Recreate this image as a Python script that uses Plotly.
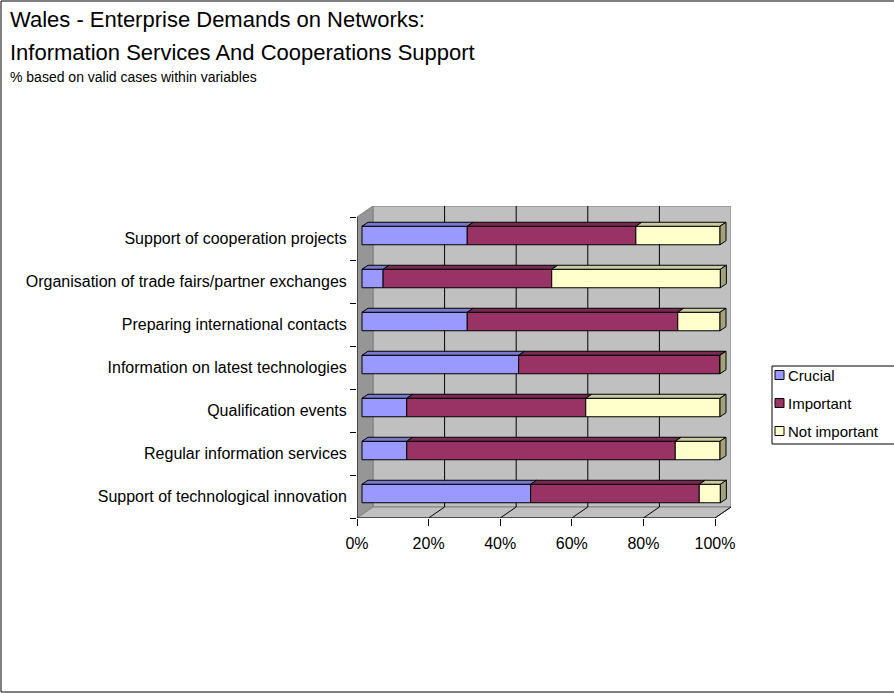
import plotly.graph_objects as go

# ---- data -------------------------------------------------------------
categories = [
    "Support of technological innovation",
    "Regular information services",
    "Qualification events",
    "Information on latest technologies",
    "Preparing international contacts",
    "Organisation of trade fairs/partner exchanges",
    "Support of cooperation projects",
]
series_names = ["Crucial", "Important", "Not important"]
crucial = [47.1, 12.5, 12.5, 43.75, 29.4, 5.9, 29.4]
important = [47.1, 75.0, 50.0, 56.25, 58.8, 47.1, 47.1]
not_important = [5.9, 12.5, 37.5, 0.0, 11.8, 47.1, 23.5]
x_ticks = [0, 20, 40, 60, 80, 100]
x_tick_labels = ["0%", "20%", "40%", "60%", "80%", "100%"]

title_1 = "Wales - Enterprise Demands on Networks:"
title_2 = "Information Services And Cooperations Support"
subtitle = "% based on valid cases within variables"

# ---- styling ----------------------------------------------------------
FONT = "Liberation Sans, Arial, sans-serif"
front_colors = ["#9999FF", "#993366", "#FFFFCC"]
top_colors = ["#7A7ACC", "#7A2952", "#CCCCA3"]
side_colors = ["#5C5C99", "#5C1F3D", "#A3A37A"]
WALL = "#C0C0C0"
SIDE_WALL = "#969696"
FLOOR = "#C0C0C0"
EDGE = "#808080"

W, H = 894, 693
L, R, T, B = 357, 731, 206, 518          # plot area in pixels
PX_PER_PCT = 3.58
PX_PER_CAT = 43.0

# depth offsets (data units)
WALL_DX, WALL_DY = 16 / PX_PER_PCT, 11 / PX_PER_CAT
BAR_DX, BAR_DY = 5 / PX_PER_PCT, 3 / PX_PER_CAT
BAR_DEPTH_X, BAR_DEPTH_Y = 6 / PX_PER_PCT, 4 / PX_PER_CAT
BAR_THICK = 18.5 / PX_PER_CAT

x_max = (R - L) / PX_PER_PCT
y_min = -0.5
y_max = y_min + (B - T) / PX_PER_CAT
n = len(categories)


def paper_x(px):
    return (px - L) / (R - L)


def paper_y(py):
    return (B - py) / (B - T)


fig = go.Figure()

series = [crucial, important, not_important]
positions = [k + BAR_DY for k in range(n)]
cum = [0.0] * n
for name, vals, fc in zip(series_names, series, front_colors):
    fig.add_trace(go.Bar(
        y=positions, x=vals, base=[c + BAR_DX for c in cum],
        orientation="h", width=BAR_THICK, name=name,
        marker=dict(color=fc, line=dict(color="black", width=1)),
        showlegend=False,
    ))
    cum = [c + v for c, v in zip(cum, vals)]

# top faces of each stacked segment
cum = [0.0] * n
for vals, tc in zip(series, top_colors):
    xs, ys = [], []
    for k in range(n):
        x0 = cum[k] + BAR_DX
        x1 = cum[k] + vals[k] + BAR_DX
        yt = positions[k] + BAR_THICK / 2
        xs += [x0, x1, x1 + BAR_DEPTH_X, x0 + BAR_DEPTH_X, x0, None]
        ys += [yt, yt, yt + BAR_DEPTH_Y, yt + BAR_DEPTH_Y, yt, None]
    fig.add_trace(go.Scatter(
        x=xs, y=ys, mode="lines", fill="toself", fillcolor=tc,
        line=dict(color="black", width=1), showlegend=False, hoverinfo="skip",
    ))
    cum = [c + v for c, v in zip(cum, vals)]

# end faces of each stack
xs, ys = [], []
for k in range(n):
    xe = cum[k] + BAR_DX
    yb = positions[k] - BAR_THICK / 2
    yt = positions[k] + BAR_THICK / 2
    xs += [xe, xe, xe + BAR_DEPTH_X, xe + BAR_DEPTH_X, xe, None]
    ys += [yb, yt, yt + BAR_DEPTH_Y, yb + BAR_DEPTH_Y, yb, None]
fig.add_trace(go.Scatter(
    x=xs, y=ys, mode="lines", fill="toself", fillcolor=side_colors[-1],
    line=dict(color="black", width=1), showlegend=False, hoverinfo="skip",
))

shapes = []
# back wall
shapes.append(dict(type="rect", xref="x", yref="y", layer="below",
                   x0=WALL_DX, x1=100 + WALL_DX,
                   y0=y_min + WALL_DY, y1=n - 0.5 + WALL_DY,
                   fillcolor=WALL, line=dict(color=EDGE, width=1)))
# side wall
shapes.append(dict(type="path", xref="x", yref="y", layer="below",
                   path=f"M 0,{y_min} L 0,{n - 0.5} L {WALL_DX},{n - 0.5 + WALL_DY} "
                        f"L {WALL_DX},{y_min + WALL_DY} Z",
                   fillcolor=SIDE_WALL, line=dict(color=EDGE, width=1)))
# floor
shapes.append(dict(type="path", xref="x", yref="y", layer="below",
                   path=f"M 0,{y_min} L 100,{y_min} L {100 + WALL_DX},{y_min + WALL_DY} "
                        f"L {WALL_DX},{y_min + WALL_DY} Z",
                   fillcolor=FLOOR, line=dict(color=EDGE, width=1)))
# grid lines on wall and floor
for v in x_ticks[1:-1]:
    shapes.append(dict(type="line", xref="x", yref="y", layer="below",
                       x0=v + WALL_DX, x1=v + WALL_DX,
                       y0=y_min + WALL_DY, y1=n - 0.5 + WALL_DY,
                       line=dict(color="black", width=1)))
for v in x_ticks[1:]:
    shapes.append(dict(type="line", xref="x", yref="y", layer="below",
                       x0=v, x1=v + WALL_DX, y0=y_min, y1=y_min + WALL_DY,
                       line=dict(color="black", width=1)))
# front axis lines
shapes.append(dict(type="line", xref="x", yref="y", x0=0, x1=0, y0=y_min, y1=n - 0.5,
                   line=dict(color="black", width=1)))
shapes.append(dict(type="line", xref="x", yref="y", x0=0, x1=100, y0=y_min, y1=y_min,
                   line=dict(color="black", width=1)))
# chart frame
shapes.append(dict(type="rect", xref="paper", yref="paper",
                   x0=paper_x(1), x1=paper_x(900), y0=paper_y(692), y1=paper_y(1),
                   line=dict(color="black", width=1), fillcolor="rgba(0,0,0,0)"))

# legend box and entries
leg_left, leg_top, leg_bottom = 772, 366, 444
shapes.append(dict(type="rect", xref="paper", yref="paper",
                   x0=paper_x(leg_left), x1=paper_x(900),
                   y0=paper_y(leg_bottom), y1=paper_y(leg_top),
                   line=dict(color="black", width=1), fillcolor="white"))
annotations = []
leg_rows = [375, 403, 431]
for name, fc, ry in zip(series_names, front_colors, leg_rows):
    shapes.append(dict(type="rect", xref="paper", yref="paper",
                       x0=paper_x(775), x1=paper_x(784),
                       y0=paper_y(ry + 4.5), y1=paper_y(ry - 4.5),
                       fillcolor=fc, line=dict(color="black", width=1)))
    annotations.append(dict(xref="paper", yref="paper", x=paper_x(786), y=paper_y(ry),
                            xanchor="left", yanchor="middle", showarrow=False,
                            text=name, font=dict(family=FONT, size=15, color="black")))

# titles
for txt, py, size in [(title_1, 20, 22), (title_2, 52, 22), (subtitle, 77, 14)]:
    annotations.append(dict(xref="paper", yref="paper", x=paper_x(8), y=paper_y(py),
                            xanchor="left", yanchor="middle", showarrow=False,
                            text=txt, font=dict(family=FONT, size=size, color="black")))

fig.update_layout(
    width=W, height=H,
    margin=dict(l=L, r=W - R, t=T, b=H - B, pad=0),
    paper_bgcolor="white", plot_bgcolor="white",
    barmode="overlay", showlegend=False,
    shapes=shapes, annotations=annotations,
    font=dict(family=FONT, size=16, color="black"),
    xaxis=dict(range=[0, x_max], tickvals=x_ticks, ticktext=x_tick_labels,
               ticks="outside", ticklen=7, tickcolor="black", showgrid=False,
               zeroline=False, showline=False, fixedrange=True,
               ticklabelstandoff=4,
               tickfont=dict(family=FONT, size=16, color="black")),
    yaxis=dict(range=[y_min, y_max], tickvals=list(range(n)), ticktext=categories,
               ticks="outside", ticklen=6, tickcolor="rgba(0,0,0,0)", showgrid=False,
               zeroline=False, showline=False, fixedrange=True,
               tickfont=dict(family=FONT, size=16, color="black"),
               minor=dict(tickvals=[k - 0.5 for k in range(n + 1)], ticks="outside",
                          ticklen=6, tickcolor="black", showgrid=False)),
)

fig.write_html("out.html")
